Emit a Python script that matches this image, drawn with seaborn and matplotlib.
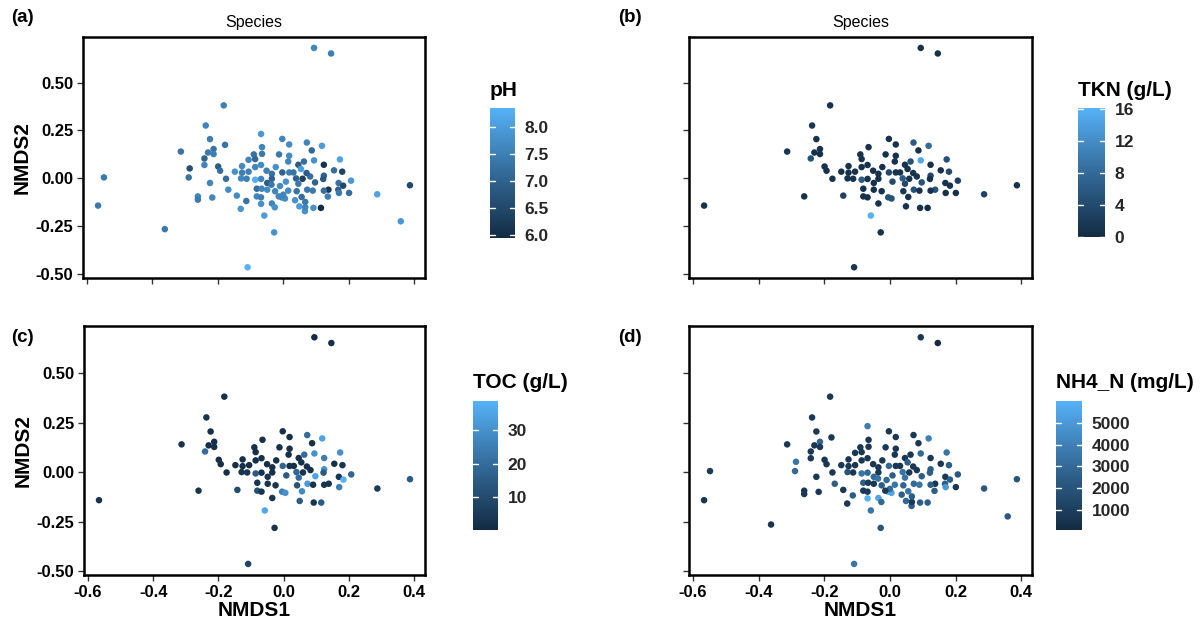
import numpy as np
import pandas as pd
import matplotlib
matplotlib.use("Agg")
import matplotlib.pyplot as plt
import seaborn as sns
from matplotlib.colors import LinearSegmentedColormap, Normalize
from matplotlib.cm import ScalarMappable

nan = float("nan")

# NMDS site scores
nmds1 = [0.094, 0.146, -0.182, -0.237, -0.313, -0.548, -0.566, -0.362, -0.109, -0.028,
         -0.058, 0.287, 0.359, 0.387, 0.207, 0.201,
         -0.224, -0.178, -0.230, -0.213, -0.213, -0.241, -0.241, -0.286, -0.289, -0.199,
         -0.193, -0.224, -0.175, -0.168, -0.217, -0.261, -0.261, -0.148, -0.126, -0.126,
         -0.129, -0.112, -0.106, -0.106, -0.142, -0.113, -0.130, -0.090, -0.086, -0.068,
         -0.065, -0.065, -0.068, -0.086, -0.086, -0.068, -0.051, -0.035, -0.035, -0.081,
         -0.066, -0.081, -0.068, -0.068, -0.049, -0.049, -0.036, -0.025, -0.035, -0.026,
         -0.010, -0.005, 0.005, -0.013, -0.003, -0.023, -0.003, 0.015, 0.018, 0.018,
         0.018, 0.008, 0.015, 0.000, -0.014, 0.031, 0.046, 0.063, 0.054, 0.039,
         0.059, 0.046, 0.041, 0.036, 0.049, 0.066, 0.067, 0.067, 0.056, 0.073,
         0.082, 0.072, 0.087, 0.094, 0.071, 0.097, 0.090, 0.092, 0.115, 0.118,
         0.124, 0.124, 0.122, 0.138, 0.124, 0.136, 0.155, 0.173, 0.180, 0.169,
         0.183, 0.168, 0.170]
nmds2 = [0.681, 0.652, 0.381, 0.276, 0.140, 0.005, -0.142, -0.265, -0.464, -0.282,
         -0.194, -0.083, -0.224, -0.036, -0.012, -0.076,
         0.205, 0.175, 0.135, 0.153, 0.127, 0.104, 0.070, 0.052, 0.005, 0.062,
         0.040, -0.024, -0.002, -0.059, -0.100, -0.094, -0.111, 0.035, 0.064, 0.030,
         0.000, -0.002, 0.035, 0.097, -0.090, -0.118, -0.159, 0.125, 0.101, 0.232,
         0.163, 0.128, 0.070, 0.059, -0.007, -0.003, 0.040, 0.024, -0.002, -0.054,
         -0.054, -0.094, -0.099, -0.133, -0.024, -0.059, -0.033, -0.067, -0.131, -0.151,
         -0.040, -0.099, -0.105, 0.125, 0.206, 0.059, 0.031, 0.088, 0.118, 0.177,
         0.031, -0.017, -0.064, -0.085, -0.094, 0.031, 0.071, 0.088, 0.049, 0.000,
         -0.002, -0.028, -0.067, -0.114, -0.146, -0.171, -0.151, -0.123, -0.097, -0.059,
         0.010, 0.187, 0.146, 0.094, 0.028, -0.021, -0.064, -0.154, -0.154, 0.170,
         0.071, 0.014, -0.003, -0.059, -0.064, -0.095, 0.042, 0.099, 0.035, -0.024,
         -0.038, -0.059, -0.076]

# Environmental variables (NaN = not measured)
ph = [7.6, 7.5, 7.5, 7.6, 7.3, 7.4, 7.4, 7.4, 8.35, 7.8,
      8.0, 8.1, 7.9, 6.5, 7.9, 7.2,
      7.5, 7.3, 7.4, 7.3, 7.5, 7.0, 7.6, 6.6, 7.3, 6.9,
      7.2, 7.6, 7.2, 7.7, 7.6, 7.6, 7.4, 7.8, 7.7, 7.5,
      7.6, 7.5, 7.5, 7.6, 7.7, 7.3, 7.9, 7.3, 7.1, 7.9,
      7.6, 7.4, 7.7, 7.6, 8.3, 7.6, 7.5, 7.3, 7.0, 7.2,
      7.6, 7.6, 7.5, 7.8, 6.9, 7.7, 7.4, 7.6, 7.6, 7.8,
      7.7, 7.6, 7.7, 7.4, 7.6, 7.8, 7.0, 7.6, 7.7, 7.7,
      7.5, 7.8, 7.7, 7.6, 7.6, 7.3, 6.9, 7.2, 8.0, 7.0,
      6.3, 7.4, 7.3, 7.8, 8.0, 7.8, 7.6, 7.4, 7.2, 7.4,
      7.2, 7.6, 7.1, 7.8, 6.9, 7.0, 7.4, 7.8, 5.94, 8.0,
      6.1, 7.0, 6.8, 6.2, 7.2, 7.5, 7.2, 8.1, 6.4, 7.3,
      6.5, 7.0, 7.4]
tkn = [1.0, 1.0, 1.0, 1.5, 1.5, nan, 1.0, nan, 1.5, 1.0,
       16.1, 3.0, nan, 1.0, 2.5, 1.0,
       1.0, nan, 1.0, 1.0, 1.0, 5.0, nan, nan, nan, 1.0,
       1.0, nan, 1.0, nan, nan, 1.0, nan, 1.0, 1.0, 1.0,
       1.0, 1.0, 1.0, nan, 3.0, nan, nan, 1.0, 1.0, nan,
       1.0, nan, 1.0, 1.0, 6.0, 1.0, 1.0, 1.0, 1.0, 1.0,
       nan, 1.0, 1.0, nan, 1.0, 1.0, nan, 1.0, 1.0, nan,
       nan, 5.0, 5.0, 1.0, 1.0, 1.0, 4.0, 1.0, 1.0, 1.0,
       1.0, 4.0, nan, nan, nan, 1.0, 1.0, 5.0, 1.0, 6.0,
       1.0, 4.0, 1.5, nan, 1.0, nan, nan, nan, 1.0, 5.0,
       1.0, 6.0, 1.0, 15.0, 1.0, 5.0, 1.0, 1.0, 0.0, 8.0,
       1.0, 4.0, 1.0, 5.0, 1.0, nan, 1.0, 5.0, 4.0, 1.0,
       1.0, nan, 1.0]
toc = [0.2, 2, 2, 3, 3, nan, 3, nan, 8, 3,
       36, 5, nan, 15, 18, nan,
       2, nan, 2, 2, 2, 20, nan, nan, nan, 2,
       2, nan, 2, nan, nan, 3, nan, 2, 2, 2,
       3, 3, 2, nan, 10, nan, nan, 2, 2, nan,
       2, nan, 2, 2, 15, 2, 2, 2, 2, 3,
       nan, 12, 3, nan, 3, 3, nan, 3, 3, nan,
       nan, 25, 30, 2, 2, 2, 18, 2, 2, 2,
       2, 15, nan, nan, nan, 2, 2, 20, 2, 18,
       3, 20, 12, nan, 15, nan, nan, nan, 28, 32,
       2, 20, 2, 30, 2, 35, 3, 3, 15, 35,
       25, 30, 15, 3, 3, nan, 2, 30, 3, 3,
       38.8, nan, 25]
nh4 = [600, 65, 700, 800, 600, 800, 600, 500, 3500, 2000,
       3500, 2200, 2200, 2000, 2200, 700,
       700, 700, 600, 2800, 700, 700, 600, 3500, 3000, 600,
       700, 700, 600, 2500, 700, 600, 700, 700, 600, 700,
       2000, 700, 600, 700, 700, 2500, 600, 700, 600, 3800,
       700, 700, 700, 600, 3500, 3000, 700, 700, 700, 2500,
       800, 700, 700, 6010, 3000, 700, 3500, 2500, 5500, 3000,
       3000, 5500, 5500, 700, 700, 700, 3000, 700, 600, 700,
       700, 2500, 3500, 3000, 800, 700, 700, 700, 2500, 3500,
       700, 3500, 2800, 2500, 3000, 2500, 700, 2500, 3500, 3000,
       700, 700, 700, 3000, 700, 2500, 3500, 2500, 2500, 4000,
       700, 2500, 2500, 700, 2500, 2500, 700, 3500, 2500, 700,
       2500, 2500, 5000]

sites = pd.DataFrame({"NMDS1": nmds1, "NMDS2": nmds2, "pH": ph,
                      "TKN": tkn, "TOC": toc, "NH4_N": nh4})

sns.set_style("white")
plt.rcParams["font.family"] = ["Liberation Sans", "DejaVu Sans"]
plt.rcParams["text.color"] = "black"
plt.rcParams["axes.labelcolor"] = "black"

# ggplot-style default continuous gradient
cmap = LinearSegmentedColormap.from_list("gg", ["#132B43", "#336A98", "#56B1F7"])

W, H = 1204, 628
fig = plt.figure(figsize=(W / 100, H / 100), dpi=100)


def px_axes(left, top, right, bottom):
    return fig.add_axes([left / W, 1 - bottom / H, (right - left) / W, (bottom - top) / H])


panels = [
    # var, legend title, cbar ticks, fmt, axes box, cbar box, tag pos, x labels, y labels, title
    ("pH", "pH", [6.0, 6.5, 7.0, 7.5, 8.0], "{:.1f}", (83, 37, 425, 278), (490, 108, 515, 238), (11, 18), False, True, "Species"),
    ("TKN", "TKN (g/L)", [0, 4, 8, 12, 16], "{:.0f}", (689, 37, 1032, 278), (1078, 108, 1105, 237), (618, 18), False, False, "Species"),
    ("TOC", "TOC (g/L)", [10, 20, 30], "{:.0f}", (84, 326, 425, 575), (473, 401, 498, 530), (11, 337), True, True, None),
    ("NH4_N", "NH4_N (mg/L)", [1000, 2000, 3000, 4000, 5000], "{:.0f}", (689, 326, 1032, 575), (1056, 401, 1082, 530), (618, 337), True, False, None),
]
tags = ["(a)", "(b)", "(c)", "(d)"]

for (var, ctitle, cticks, fmt, box, cbox, tagpos, showx, showy, title), tag in zip(panels, tags):
    ax = px_axes(*box)
    d = sites.dropna(subset=[var])
    norm = Normalize(d[var].min(), d[var].max())
    sns.scatterplot(data=d, x="NMDS1", y="NMDS2", hue=var, palette=cmap, hue_norm=norm,
                    s=22, linewidth=0, legend=False, ax=ax)
    ax.set_xlim(-0.612, 0.433)
    ax.set_ylim(-0.52, 0.738)
    ax.set_xticks([-0.6, -0.4, -0.2, 0.0, 0.2, 0.4])
    ax.set_yticks([-0.5, -0.25, 0.0, 0.25, 0.5])
    ax.set_xticklabels(["-0.6", "-0.4", "-0.2", "0.0", "0.2", "0.4"] if showx else [])
    ax.set_yticklabels(["-0.50", "-0.25", "0.00", "0.25", "0.50"] if showy else [])
    ax.tick_params(direction="out", length=4, width=1, color="#333333",
                   labelsize=12, labelcolor="black", pad=3, bottom=True, left=True)
    for lab in ax.get_xticklabels() + ax.get_yticklabels():
        lab.set_fontweight("bold")
    for sp in ax.spines.values():
        sp.set_visible(True)
        sp.set_color("black")
        sp.set_linewidth(1.8)
    ax.set_xlabel("NMDS1" if showx else "", fontsize=15, fontweight="bold", labelpad=1)
    ax.set_ylabel("NMDS2" if showy else "", fontsize=15, fontweight="bold", labelpad=3)
    if title:
        ax.set_title(title, fontsize=11.5, pad=7)
    fig.text(tagpos[0] / W, 1 - tagpos[1] / H, tag, fontsize=13.5, fontweight="bold",
             ha="left", va="center")

    # colour bar with white tick marks on both edges
    cax = px_axes(*cbox)
    cb = fig.colorbar(ScalarMappable(norm=norm, cmap=cmap), cax=cax)
    cb.outline.set_visible(False)
    cb.set_ticks(cticks)
    cb.set_ticklabels([fmt.format(t) for t in cticks])
    cax.tick_params(length=0, left=False, right=True, labelleft=False, labelright=True,
                    labelsize=12.5, pad=7)
    for t in cticks:
        cax.axhline(t, xmin=0, xmax=0.2, color="white", lw=1, zorder=5)
        cax.axhline(t, xmin=0.8, xmax=1, color="white", lw=1, zorder=5)
    for lab in cax.get_yticklabels():
        lab.set_fontweight("bold")
    fig.text(cbox[0] / W, 1 - (cbox[1] - 18) / H, ctitle, fontsize=15, fontweight="bold",
             ha="left", va="center")

fig.savefig("out.png", dpi=100, facecolor="white")
